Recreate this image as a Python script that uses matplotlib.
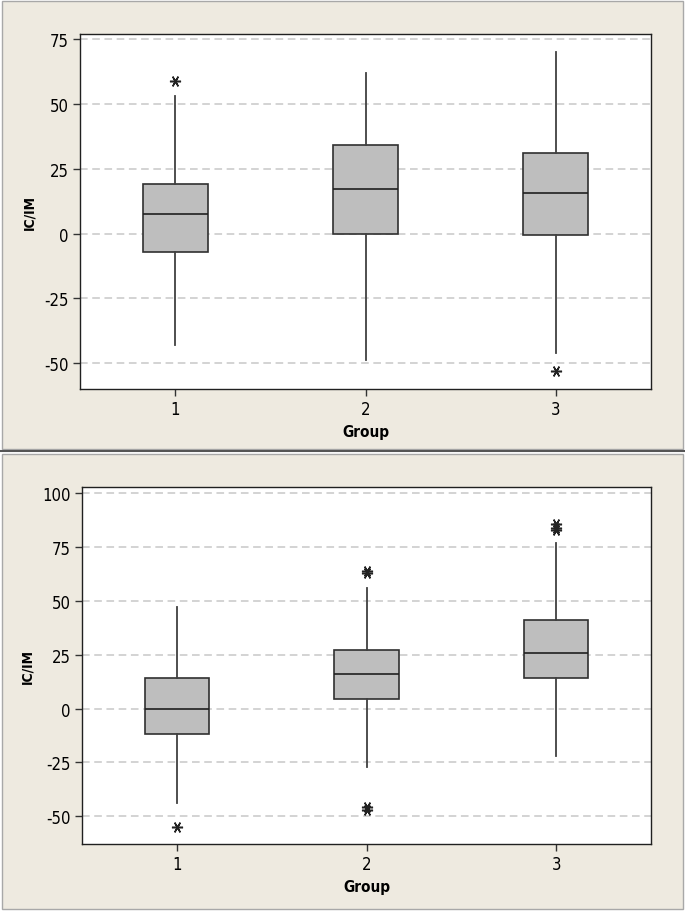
import matplotlib
matplotlib.use('Agg')
import matplotlib.pyplot as plt
from matplotlib.patches import Rectangle
from matplotlib.lines import Line2D

plt.rcParams['font.family'] = ['DejaVu Sans']
plt.rcParams['font.stretch'] = 'condensed'
plt.rcParams['axes.unicode_minus'] = False

groups = ['1', '2', '3']

# top panel
top_whislo = [-43, -49, -46]
top_q1 = [-7, 0, -0.5]
top_med = [7.5, 17, 15.5]
top_q3 = [19, 34, 31]
top_whishi = [53, 62, 70]
top_fliers = [[59], [], [-53]]
top_ticks = [-50, -25, 0, 25, 50, 75]

# bottom panel
bot_whislo = [-44, -27, -22]
bot_q1 = [-12, 4.5, 14]
bot_med = [0, 16, 26]
bot_q3 = [14, 27, 41]
bot_whishi = [47, 56, 77]
bot_fliers = [[-55], [64, 63, -46, -47], [86, 84, 83]]
bot_ticks = [-50, -25, 0, 25, 50, 75, 100]

bg = '#EEEAE0'
W, H = 685, 912
fig = plt.figure(figsize=(W / 100, H / 100), dpi=100)
fig.patch.set_facecolor('white')

# two beige panels with borders, kept behind the axes
fig.patches.append(Rectangle((2 / W, 1 - 450 / H), 681 / W, 448 / H, transform=fig.transFigure,
                             facecolor=bg, edgecolor='#A8A8A8', lw=1, zorder=-5))
fig.patches.append(Rectangle((2 / W, 1 - 910 / H), 681 / W, 455 / H, transform=fig.transFigure,
                             facecolor=bg, edgecolor='#A8A8A8', lw=1, zorder=-5))
fig.lines.append(Line2D([0, 1], [1 - 452 / H, 1 - 452 / H], transform=fig.transFigure,
                        color='#555555', lw=1.5, zorder=-4))


def make_stats(lo, q1, med, q3, hi, fl):
    out = []
    for i in range(len(lo)):
        out.append({'whislo': lo[i], 'q1': q1[i], 'med': med[i], 'q3': q3[i],
                    'whishi': hi[i], 'fliers': fl[i]})
    return out


def draw(ax, stats, ticks, ylim):
    ax.set_facecolor('white')
    for t in ticks:
        ax.axhline(t, color='#C8C8C8', lw=1.1, ls=(0, (5, 3)), zorder=0)
    ax.bxp(stats, positions=[1, 2, 3], widths=0.34, patch_artist=True, showcaps=False,
           boxprops=dict(facecolor='#BEBEBE', edgecolor='#303030', lw=1.2),
           medianprops=dict(color='#202020', lw=1.2),
           whiskerprops=dict(color='#404040', lw=1.3),
           flierprops=dict(marker=(6, 2, 90), markersize=8, markeredgecolor='#222222',
                           markeredgewidth=1.1, linestyle='none'))
    ax.set_xlim(0.5, 3.5)
    ax.set_ylim(*ylim)
    ax.set_xticks([1, 2, 3])
    ax.set_xticklabels(groups)
    ax.set_yticks(ticks)
    ax.tick_params(axis='both', direction='out', length=5, width=1, color='#333333',
                   labelsize=12, pad=3)
    for s in ax.spines.values():
        s.set_color('#202020')
        s.set_linewidth(1)
    ax.set_xlabel('Group', fontsize=11, fontweight='bold', labelpad=4)
    ax.set_ylabel('IC/IM', fontsize=10, fontweight='bold', labelpad=6)


ax1 = fig.add_axes([80 / W, 1 - 390 / H, 571 / W, 355 / H])
draw(ax1, make_stats(top_whislo, top_q1, top_med, top_q3, top_whishi, top_fliers),
     top_ticks, (-60, 77))

ax2 = fig.add_axes([82 / W, 1 - 845 / H, 569 / W, 357 / H])
draw(ax2, make_stats(bot_whislo, bot_q1, bot_med, bot_q3, bot_whishi, bot_fliers),
     bot_ticks, (-63, 103))

fig.savefig('out.png', dpi=100, facecolor=fig.get_facecolor())
